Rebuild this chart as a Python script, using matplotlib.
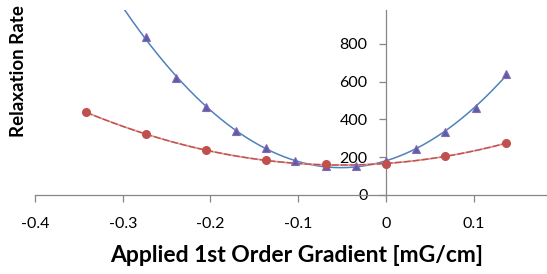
import matplotlib
matplotlib.use('Agg')
import matplotlib.pyplot as plt
import numpy as np

plt.rcParams['font.family'] = ['Lato', 'DejaVu Sans']

# gradient values [mG/cm] and relaxation rates
x_tri = [-0.274, -0.2395, -0.205, -0.171, -0.137, -0.103, -0.068, -0.034, 0.0, 0.034, 0.068, 0.103, 0.137]
rate_tri = [838, 619, 465, 338, 248, 181, 154, 154, 179, 242, 333, 462, 640]

x_dot = [-0.342, -0.274, -0.205, -0.137, -0.068, 0.0, 0.068, 0.137]
rate_dot = [439, 320, 237, 182, 161, 163, 204, 273]

xticks = [-0.4, -0.3, -0.2, -0.1, 0, 0.1]
yticks = [0, 200, 400, 600, 800]

axis_grey = '#868686'
blue = '#4F81BD'
red = '#C0504D'

fig = plt.figure(figsize=(5.47, 2.74), dpi=100)
ax = fig.add_axes([35 / 547, 79.3 / 274, 512 / 547, 184.7 / 274])

# polynomial trendlines (order 2) like the spreadsheet
xs = np.linspace(-0.342, 0.137, 200)
p_tri = np.polyfit(x_tri, rate_tri, 2)
p_dot = np.polyfit(x_dot, rate_dot, 2)
ax.plot(xs, np.polyval(p_tri, xs), color=blue, lw=1.1, zorder=2)
ax.plot(xs, np.polyval(p_dot, xs), color='#E3A09E', lw=1.3, zorder=2)
ax.plot(xs, np.polyval(p_dot, xs), color=red, lw=1.0, ls=(0, (5, 1.5)), zorder=2)

ax.plot(x_tri, rate_tri, ls='none', marker='^', ms=6, mfc='#5560AC', mec='#8868B0', mew=0.8, zorder=3)
ax.plot(x_dot, rate_dot, ls='none', marker='o', ms=5.5, mfc=red, mec=red, zorder=3)

ax.set_xlim(-0.4, -0.4 + 512 / 877)
ax.set_ylim(0, 980)
ax.set_xticks(xticks)
ax.set_xticklabels(['-0.4', '-0.3', '-0.2', '-0.1', '0', '0.1'])
ax.set_yticks(yticks)

ax.spines['left'].set_position(('data', 0))
ax.spines['top'].set_visible(False)
ax.spines['right'].set_visible(False)
for s in ('left', 'bottom'):
    ax.spines[s].set_color(axis_grey)
    ax.spines[s].set_linewidth(0.9)
ax.tick_params(axis='both', colors=axis_grey, labelcolor='black', length=5, width=0.9,
               labelsize=11.5, direction='out')
ax.tick_params(axis='x', pad=11)
ax.tick_params(axis='y', pad=8)

fig.text(297 / 547, 1 - 256 / 274, 'Applied 1st Order Gradient [mG/cm]', ha='center', va='center',
         fontsize=16.5, fontweight='bold')
fig.text(19 / 547, 1 - 71 / 274, 'Relaxation Rate', ha='center', va='center', rotation=90,
         fontsize=13.5, fontweight='bold')

fig.savefig('out.png', dpi=100)
